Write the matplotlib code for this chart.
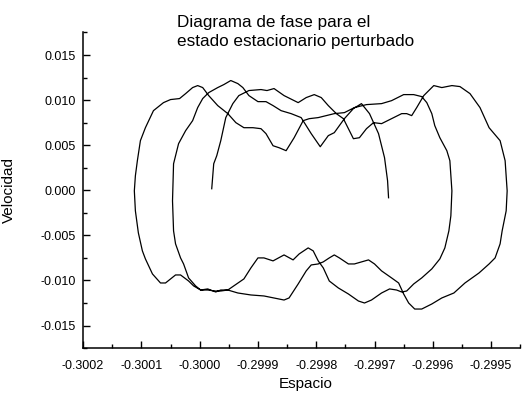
import matplotlib
matplotlib.use("Agg")
import matplotlib.pyplot as plt
from matplotlib.ticker import MultipleLocator, FormatStrFormatter

plt.rcParams['font.family'] = ['Liberation Sans', 'DejaVu Sans']
plt.rcParams['axes.unicode_minus'] = False

# Phase trajectory: position (Espacio) and velocity (Velocidad)
espacio = [
    -0.2999793, -0.2999759, -0.2999707, -0.2999638, -0.2999552, -0.2999431, -0.2999328, -0.2999155,
    -0.2998948, -0.2998845, -0.2998724, -0.2998552, -0.2998310, -0.2998172, -0.2998034, -0.2997914,
    -0.2997793, -0.2997655, -0.2997534, -0.2997448, -0.2997362, -0.2997259, -0.2997138, -0.2997017,
    -0.2996879, -0.2996707, -0.2996534, -0.2996448, -0.2996362, -0.2996276, -0.2996155, -0.2995983,
    -0.2995845, -0.2995672, -0.2995534, -0.2995362, -0.2995190, -0.2995034, -0.2994845, -0.2994759,
    -0.2994724, -0.2994741, -0.2994810, -0.2994845, -0.2994931, -0.2995034, -0.2995207, -0.2995448,
    -0.2995638, -0.2995845, -0.2996017, -0.2996190, -0.2996310, -0.2996414, -0.2996500, -0.2996586,
    -0.2996707, -0.2996879, -0.2997000, -0.2997103, -0.2997224, -0.2997345, -0.2997448, -0.2997603,
    -0.2997690, -0.2997776, -0.2997879, -0.2997966, -0.2998086, -0.2998172, -0.2998310, -0.2998466,
    -0.2998552, -0.2998724, -0.2998897, -0.2999121, -0.2999345, -0.2999517, -0.2999638, -0.2999724,
    -0.2999862, -0.2999983, -0.3000103, -0.3000190, -0.3000328, -0.3000414, -0.3000586, -0.3000672,
    -0.3000810, -0.3000931, -0.3000983, -0.3001052, -0.3001103, -0.3001121, -0.3001103, -0.3001069,
    -0.3001017, -0.3000931, -0.3000793, -0.3000621, -0.3000500, -0.3000345, -0.3000241, -0.3000121,
    -0.3000034, -0.2999948, -0.2999845, -0.2999690, -0.2999517, -0.2999379, -0.2999241, -0.2999086,
    -0.2998948, -0.2998862, -0.2998741, -0.2998638, -0.2998517, -0.2998379, -0.2998224, -0.2998121,
    -0.2997966, -0.2997690, -0.2997517, -0.2997345, -0.2997138, -0.2996879, -0.2996707, -0.2996500,
    -0.2996328, -0.2996190, -0.2996103, -0.2996017, -0.2995966, -0.2995879, -0.2995759, -0.2995707,
    -0.2995672, -0.2995690, -0.2995724, -0.2995793, -0.2995879, -0.2996017, -0.2996190, -0.2996328,
    -0.2996448, -0.2996534, -0.2996621, -0.2996741, -0.2996879, -0.2997052, -0.2997172, -0.2997276,
    -0.2997448, -0.2997621, -0.2997776, -0.2997879, -0.2997966, -0.2998052, -0.2998138, -0.2998293,
    -0.2998397, -0.2998552, -0.2998741, -0.2998897, -0.2999000, -0.2999121, -0.2999241, -0.2999414,
    -0.2999517, -0.2999638, -0.2999741, -0.2999862, -0.2999983, -0.3000069, -0.3000190, -0.3000276,
    -0.3000328, -0.3000414, -0.3000448, -0.3000466, -0.3000448, -0.3000362, -0.3000241, -0.3000121,
    -0.3000034, -0.2999948, -0.2999845, -0.2999690, -0.2999586, -0.2999466, -0.2999345, -0.2999259,
    -0.2999155, -0.2999000, -0.2998862, -0.2998741, -0.2998603, -0.2998431, -0.2998259, -0.2998086,
    -0.2997931, -0.2997793, -0.2997690, -0.2997517, -0.2997362, -0.2997224, -0.2997086, -0.2996931,
    -0.2996828, -0.2996776, -0.2996759,
]
velocidad = [
    0.00017, 0.00294, 0.00383, 0.00550, 0.00806, 0.00961, 0.01050, 0.01106,
    0.01117, 0.01106, 0.01128, 0.01050, 0.00972, 0.01028, 0.01061, 0.01028,
    0.00939, 0.00850, 0.00794, 0.00683, 0.00572, 0.00583, 0.00683, 0.00750,
    0.00739, 0.00794, 0.00850, 0.00850, 0.00828, 0.00917, 0.01050, 0.01161,
    0.01139, 0.01161, 0.01150, 0.01072, 0.00917, 0.00694, 0.00550, 0.00328,
    -0.00006, -0.00228, -0.00450, -0.00594, -0.00750, -0.00817, -0.00917, -0.01028,
    -0.01139, -0.01194, -0.01261, -0.01317, -0.01317, -0.01250, -0.01150, -0.01028,
    -0.00972, -0.00894, -0.00817, -0.00772, -0.00794, -0.00817, -0.00817, -0.00750,
    -0.00717, -0.00750, -0.00794, -0.00817, -0.00828, -0.00894, -0.01039, -0.01194,
    -0.01217, -0.01194, -0.01172, -0.01161, -0.01139, -0.01106, -0.01106, -0.01128,
    -0.01094, -0.01106, -0.01061, -0.01006, -0.00939, -0.00939, -0.01028, -0.01028,
    -0.00928, -0.00761, -0.00672, -0.00472, -0.00228, -0.00006, 0.00161, 0.00328,
    0.00550, 0.00694, 0.00883, 0.00972, 0.01006, 0.01017, 0.01072, 0.01139,
    0.01161, 0.01139, 0.01050, 0.00939, 0.00850, 0.00750, 0.00694, 0.00694,
    0.00683, 0.00628, 0.00494, 0.00472, 0.00439, 0.00583, 0.00772, 0.00794,
    0.00806, 0.00850, 0.00861, 0.00917, 0.00950, 0.00961, 0.00994, 0.01061,
    0.01061, 0.01039, 0.00972, 0.00850, 0.00717, 0.00583, 0.00439, 0.00328,
    -0.00006, -0.00283, -0.00450, -0.00639, -0.00761, -0.00872, -0.00972, -0.01039,
    -0.01117, -0.01128, -0.01106, -0.01094, -0.01139, -0.01217, -0.01250, -0.01228,
    -0.01150, -0.01083, -0.01006, -0.00861, -0.00783, -0.00672, -0.00639, -0.00706,
    -0.00772, -0.00717, -0.00783, -0.00750, -0.00750, -0.00861, -0.00983, -0.01061,
    -0.01106, -0.01117, -0.01117, -0.01106, -0.01106, -0.01061, -0.00972, -0.00817,
    -0.00750, -0.00594, -0.00450, -0.00117, 0.00294, 0.00517, 0.00661, 0.00772,
    0.00917, 0.01017, 0.01083, 0.01139, 0.01172, 0.01217, 0.01183, 0.01139,
    0.01050, 0.00983, 0.00983, 0.00939, 0.00883, 0.00850, 0.00806, 0.00628,
    0.00483, 0.00606, 0.00639, 0.00794, 0.00906, 0.00961, 0.00850, 0.00628,
    0.00361, 0.00106, -0.00083,
]

x_ticks = [-0.3002, -0.3001, -0.3000, -0.2999, -0.2998, -0.2997, -0.2996, -0.2995]
y_ticks = [-0.015, -0.010, -0.005, 0.000, 0.005, 0.010, 0.015]

fig = plt.figure(figsize=(5.26, 3.96), dpi=100)
ax = fig.add_axes([0.158, 0.121, 0.831, 0.797])

ax.plot(espacio, velocidad, color='black', linewidth=0.9)

ax.set_xlim(-0.3002, -0.29945)
ax.set_ylim(-0.0175, 0.0175)
ax.set_xticks(x_ticks)
ax.set_yticks(y_ticks)
ax.xaxis.set_minor_locator(MultipleLocator(0.00005))
ax.yaxis.set_minor_locator(MultipleLocator(0.0025))
ax.xaxis.set_major_formatter(FormatStrFormatter('%.4f'))
ax.yaxis.set_major_formatter(FormatStrFormatter('%.3f'))

for side in ['top', 'right']:
    ax.spines[side].set_visible(False)
for side in ['left', 'bottom']:
    ax.spines[side].set_linewidth(1.1)

ax.tick_params(which='major', direction='in', length=5, width=1, labelsize=9)
ax.tick_params(axis='x', which='major', pad=8.5)
ax.tick_params(axis='y', which='major', pad=5)
ax.tick_params(which='minor', direction='in', length=3, width=1)

ax.set_xlabel('Espacio', fontsize=11, labelpad=4)
ax.set_ylabel('Velocidad', fontsize=11, labelpad=18)
ax.xaxis.label.set_x(0.51)

fig.text(177 / 526, 1 - 15 / 396, 'Diagrama de fase para el\nestado estacionario perturbado',
         ha='left', va='top', fontsize=12.3, linespacing=1.35)

fig.savefig('out.png', dpi=100)
